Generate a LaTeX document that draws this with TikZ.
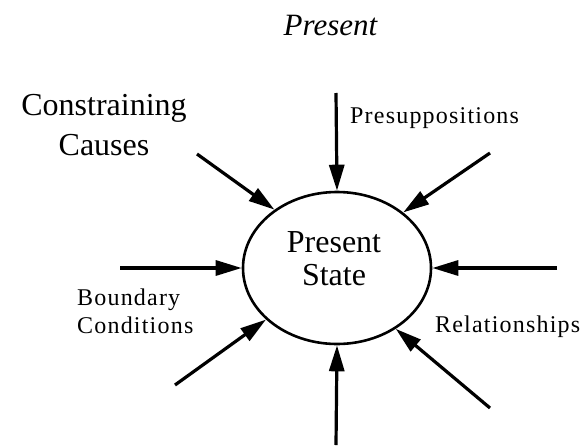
\documentclass[tikz,border=0pt]{standalone}
\usepackage{fontspec}
\setmainfont{Liberation Serif}
\newfontfamily\widefont[LetterSpace=5]{Liberation Serif}
\usetikzlibrary{arrows.meta,shapes.geometric}

\tikzset{
  state/.style={draw, ellipse, line width=2.6pt, minimum width=188pt, minimum height=152pt, inner sep=0pt},
  influence/.style={line width=3.2pt, -{Triangle[length=26pt,width=15pt]}},
  bigtext/.style={inner sep=0pt, font=\fontsize{32}{40}\selectfont},
  smalltext/.style={inner sep=0pt, font=\widefont\fontsize{24}{28}\selectfont},
}

\begin{document}
\begin{tikzpicture}[x=1pt, y=-1pt]
  \useasboundingbox (0,0) rectangle (588,447);

  % title
  \node[inner sep=0pt, anchor=base, font=\itshape\fontsize{31}{31}\selectfont] (title) at (330.5,35) {Present};

  % the central state (base anchors of multi-line nodes sit on the last line)
  \node[state] (c) at (337,268) {};
  \node[bigtext, anchor=base, align=center, font=\fontsize{32}{33}\selectfont] (cname) at (334,285) {Present\\State};

  % labels
  \node[bigtext, anchor=base, align=center] (cc) at (104,155) {Constraining\\Causes};
  \node[smalltext, anchor=base west] (pre) at (350,123) {Presuppositions};
  \node[smalltext, anchor=base west, align=left] (bc) at (77,333) {Boundary\\Conditions};
  \node[smalltext, anchor=base west] (rel) at (435,332) {Relationships};

  % arrow tails
  \coordinate (tTop) at (336,93);
  \coordinate (tBot) at (336,445);
  \coordinate (tL)   at (120,268);
  \coordinate (tR)   at (557,268);
  \coordinate (tUL)  at (197,154);
  \coordinate (tUR)  at (490,153);
  \coordinate (tLL)  at (175,385);
  \coordinate (tLR)  at (490,408);

  % influences acting on the state
  \draw[influence] (tTop) -- (c.north);
  \draw[influence] (tBot) -- (c.south);
  \draw[influence] (tL) -- (c.west);
  \draw[influence] (tR) -- (c.east);
  \draw[influence] (tUL) -- (c.137);
  \draw[influence] (tUR) -- (c.40);
  \draw[influence] (tLL) -- (c.216);
  \draw[influence] (tLR) -- (c.314);
\end{tikzpicture}
\end{document}
